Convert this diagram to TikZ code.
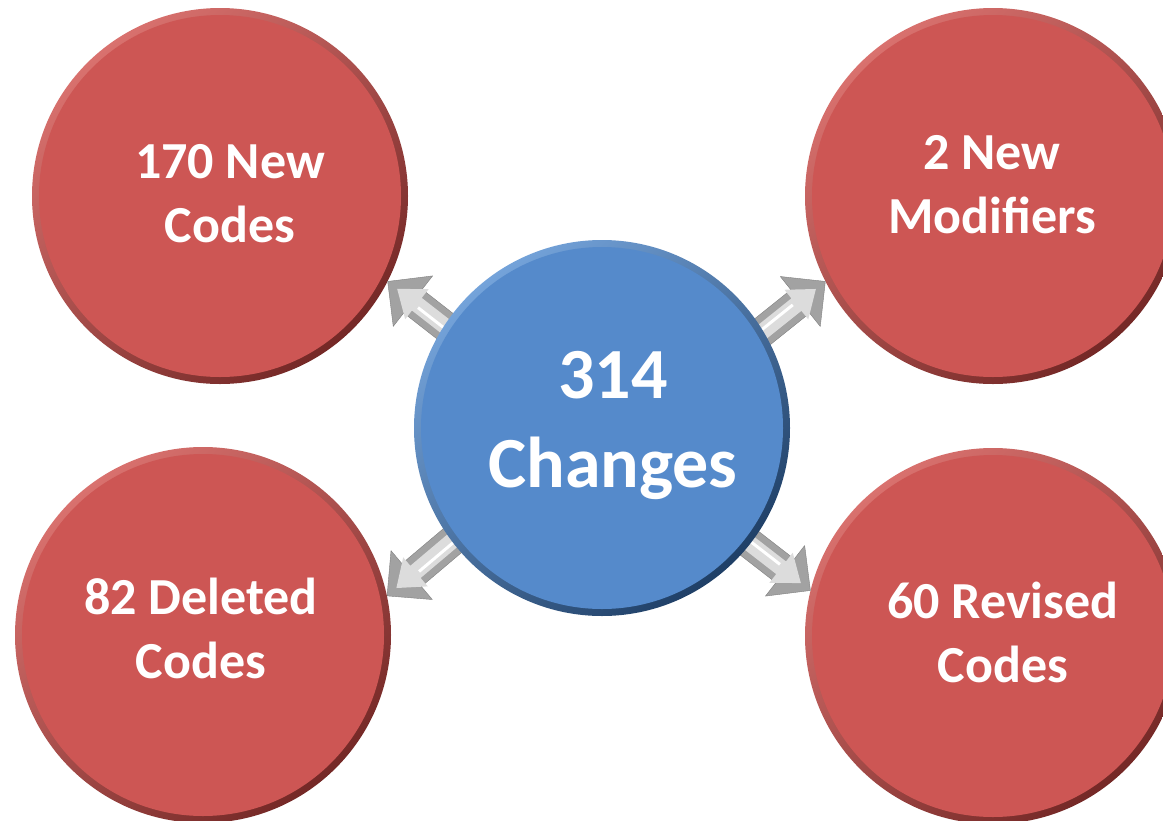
\documentclass[tikz,border=0pt]{standalone}
\usepackage{fontspec}
\setmainfont{Carlito}
\usetikzlibrary{calc}
\definecolor{redmain}{HTML}{CD5654}
\definecolor{redlight}{HTML}{D9716E}
\definecolor{reddark}{HTML}{742826}
\definecolor{bluemain}{HTML}{558ACB}
\definecolor{bluelight}{HTML}{74A3DA}
\definecolor{bluedark}{HTML}{1F3F66}
\definecolor{arrowdark}{HTML}{A2A2A2}
\definecolor{arrowlight}{HTML}{DCDCDC}
\definecolor{arrowedge}{HTML}{808080}
\pgfdeclarelayer{back}
\pgfdeclarelayer{mid}
\pgfsetlayers{back,mid,main}
\tikzset{
  bubble/.style={circle, minimum size=376pt, inner sep=0pt,
    top color=#1light, bottom color=#1dark, shading angle=40,
    path picture={\fill[#1main] (path picture bounding box.center) circle (181pt);}},
  redtext/.style={text=white, align=center, font=\fontsize{52}{64}\selectfont\bfseries},
  bluetext/.style={text=white, align=center, font=\fontsize{72}{89}\selectfont\bfseries},
}
\newcommand\blockarrow[2]{%
  \fill[arrowdark, draw=arrowedge, line width=0.4pt, line join=round]
    let \p1=(#1), \p2=(#2), \n1={atan2(\y2-\y1,\x2-\x1)},
        \n2={veclen(\x2-\x1,\y2-\y1)}, \n3={\n2-32pt} in
    ($(\p1)+(\n1:-12pt)+(\n1+90:15pt)$) -- ($(\p1)+(\n1:\n3)+(\n1+90:15pt)$)
    -- ($(\p1)+(\n1:\n3)+(\n1+90:32pt)$) -- (\p2)
    -- ($(\p1)+(\n1:\n3)+(\n1-90:32pt)$) -- ($(\p1)+(\n1:\n3)+(\n1-90:15pt)$)
    -- ($(\p1)+(\n1:-12pt)+(\n1-90:15pt)$) -- cycle;
  \fill[arrowlight]
    let \p1=(#1), \p2=(#2), \n1={atan2(\y2-\y1,\x2-\x1)},
        \n2={veclen(\x2-\x1,\y2-\y1)}, \n4={\n2-37pt}, \n5={\n2-12pt} in
    ($(\p1)+(\n1:-12pt)+(\n1+90:8pt)$) -- ($(\p1)+(\n1:\n4)+(\n1+90:8pt)$)
    -- ($(\p1)+(\n1:\n4)+(\n1+90:19pt)$) -- ($(\p1)+(\n1:\n5)$)
    -- ($(\p1)+(\n1:\n4)+(\n1-90:19pt)$) -- ($(\p1)+(\n1:\n4)+(\n1-90:8pt)$)
    -- ($(\p1)+(\n1:-12pt)+(\n1-90:8pt)$) -- cycle;
  \draw[white, line width=3pt]
    let \p1=(#1), \p2=(#2), \n1={atan2(\y2-\y1,\x2-\x1)},
        \n2={veclen(\x2-\x1,\y2-\y1)}, \n4={\n2-40pt} in
    ($(\p1)+(\n1:-12pt)+(\n1+90:2pt)$) -- ($(\p1)+(\n1:\n4)+(\n1+90:2pt)$);
}
\begin{document}
\begin{tikzpicture}[x=1pt, y=-1pt]
  \useasboundingbox (0,0) rectangle (1163,820);
  \begin{pgfonlayer}{back}
    \fill[white] (0,0) rectangle (1163,820);
    \node[bubble=red] (tl) at (220,196) {};
    \node[bubble=red] (tr) at (993,196) {};
    \node[bubble=red] (bl) at (203,635) {};
    \node[bubble=red] (br) at (993,636) {};
  \end{pgfonlayer}
  \node[bubble=blue] (hub) at (602,428) {};
  \node[redtext] (tltext) at (230,194) {170 New\\Codes};
  \node[redtext] (trtext) at (992,185) {2 New\\Modifiers};
  \node[redtext] (bltext) at (201,628) {82 Deleted\\Codes};
  \node[redtext] (brtext) at (1003,632) {60 Revised\\Codes};
  \node[bluetext] (hubtext) at (613,425) {314\\Changes};
  \begin{pgfonlayer}{mid}
    \blockarrow{hub.147}{tl.-27}
    \blockarrow{hub.31.5}{tr.207}
    \blockarrow{hub.217.7}{bl.12.8}
    \blockarrow{hub.-38.9}{br.166.9}
  \end{pgfonlayer}
\end{tikzpicture}
\end{document}
